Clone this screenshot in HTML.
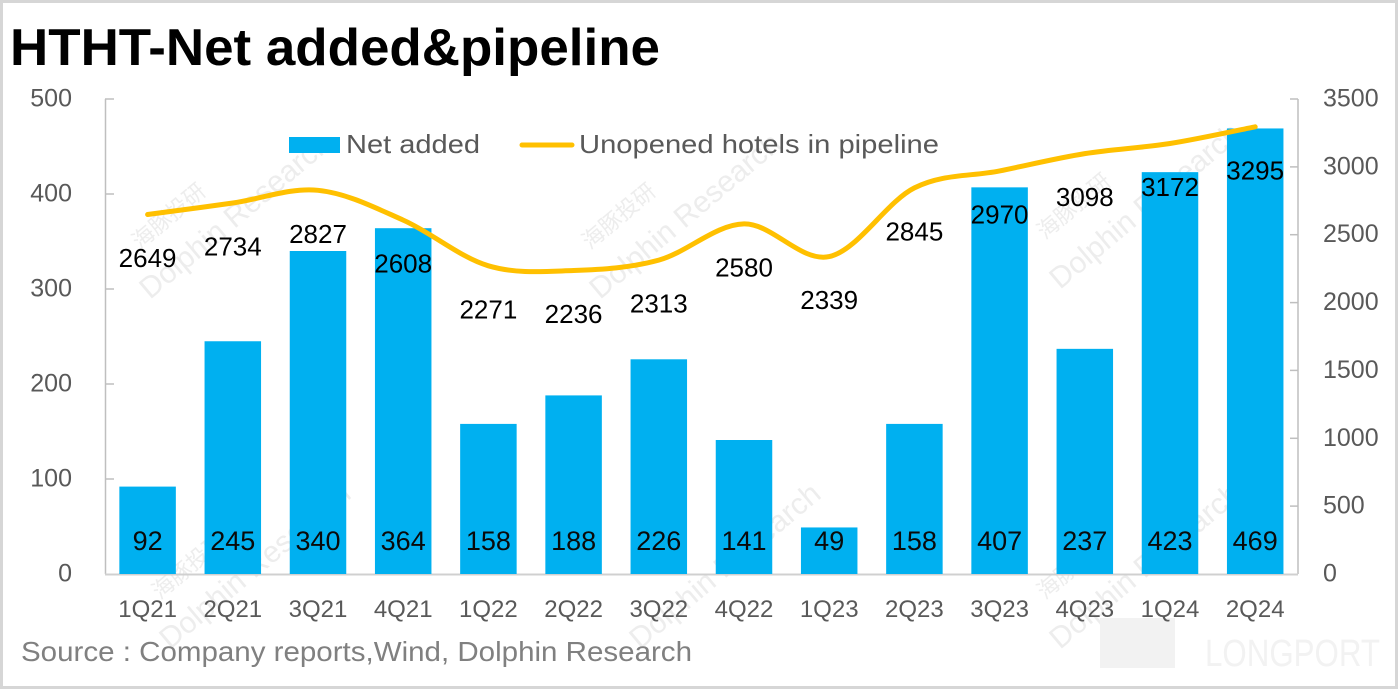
<!DOCTYPE html>
<html>
<head>
<meta charset="utf-8">
<style>
  html,body{margin:0;padding:0;background:#fff;}
  svg{display:block;}
  text{font-family:"Liberation Sans","Noto Sans CJK SC",sans-serif;}
</style>
</head>
<body>
<svg width="1398" height="689" viewBox="0 0 1398 689" xmlns="http://www.w3.org/2000/svg">
  <rect x="0" y="0" width="1398" height="689" fill="#ffffff"/>
  <rect x="1.5" y="1.5" width="1395" height="686" fill="none" stroke="#d6d6d6" stroke-width="3"/>

  <!-- faint watermarks -->
  <g fill="#ededed" font-size="30">
    <text x="0" y="0" transform="translate(150,300) rotate(-40)">Dolphin Research</text>
    <text x="0" y="0" font-size="22" transform="translate(140,250) rotate(-40)">海豚投研</text>
    <text x="0" y="0" transform="translate(600,300) rotate(-40)">Dolphin Research</text>
    <text x="0" y="0" font-size="22" transform="translate(590,250) rotate(-40)">海豚投研</text>
    <text x="0" y="0" transform="translate(1060,290) rotate(-40)">Dolphin Research</text>
    <text x="0" y="0" font-size="22" transform="translate(1045,240) rotate(-40)">海豚投研</text>
    <text x="0" y="0" transform="translate(170,650) rotate(-40)">Dolphin Research</text>
    <text x="0" y="0" font-size="22" transform="translate(160,600) rotate(-40)">海豚投研</text>
    <text x="0" y="0" transform="translate(640,650) rotate(-40)">Dolphin Research</text>
    <text x="0" y="0" transform="translate(1060,650) rotate(-40)">Dolphin Research</text>
    <text x="0" y="0" font-size="22" transform="translate(1045,600) rotate(-40)">海豚投研</text>
  </g>
  <g fill="#f2f2f2">
    <rect x="1100" y="618" width="75" height="50"/>
    <text x="1205" y="666" font-size="38" textLength="175" lengthAdjust="spacingAndGlyphs">LONGPORT</text>
  </g>

  <!-- title -->
  <text x="10" y="65" font-size="52" font-weight="bold" fill="#000" textLength="650" lengthAdjust="spacingAndGlyphs">HTHT-Net added&amp;pipeline</text>

  <!-- axes -->
  <g stroke="#bfbfbf" stroke-width="1.5" fill="none">
    <line x1="105.5" y1="99" x2="105.5" y2="574"/>
    <line x1="1298" y1="99" x2="1298" y2="574"/>
    <line x1="105" y1="574.5" x2="1298" y2="574.5" stroke="#d0d0d0" stroke-width="2"/>
    <line x1="105" y1="99" x2="114" y2="99"/>
    <line x1="105" y1="194" x2="114" y2="194"/>
    <line x1="105" y1="289" x2="114" y2="289"/>
    <line x1="105" y1="384" x2="114" y2="384"/>
    <line x1="105" y1="479" x2="114" y2="479"/>
    <line x1="1290" y1="99" x2="1298" y2="99"/>
    <line x1="1290" y1="166.9" x2="1298" y2="166.9"/>
    <line x1="1290" y1="234.7" x2="1298" y2="234.7"/>
    <line x1="1290" y1="302.6" x2="1298" y2="302.6"/>
    <line x1="1290" y1="370.4" x2="1298" y2="370.4"/>
    <line x1="1290" y1="438.3" x2="1298" y2="438.3"/>
    <line x1="1290" y1="506.1" x2="1298" y2="506.1"/>
  </g>

  <!-- left tick labels -->
  <g font-size="25" fill="#595959" text-anchor="end">
    <text x="72" y="106.5">500</text>
    <text x="72" y="201.5">400</text>
    <text x="72" y="296.5">300</text>
    <text x="72" y="391.5">200</text>
    <text x="72" y="486.5">100</text>
    <text x="72" y="581.5">0</text>
  </g>
  <!-- right tick labels -->
  <g font-size="25" fill="#595959" text-anchor="start">
    <text x="1323" y="106.5">3500</text>
    <text x="1323" y="174.4">3000</text>
    <text x="1323" y="242.2">2500</text>
    <text x="1323" y="310.1">2000</text>
    <text x="1323" y="377.9">1500</text>
    <text x="1323" y="445.8">1000</text>
    <text x="1323" y="513.6">500</text>
    <text x="1323" y="581.5">0</text>
  </g>

  <!-- bars -->
  <g fill="#00b0f0">
    <rect x="119.35" y="486.6" width="56.5" height="87.4"/>
    <rect x="204.55" y="341.25" width="56.5" height="232.75"/>
    <rect x="289.75" y="251" width="56.5" height="323"/>
    <rect x="374.95" y="228.2" width="56.5" height="345.8"/>
    <rect x="460.15" y="423.9" width="56.5" height="150.1"/>
    <rect x="545.35" y="395.4" width="56.5" height="178.6"/>
    <rect x="630.55" y="359.3" width="56.5" height="214.7"/>
    <rect x="715.75" y="440" width="56.5" height="134"/>
    <rect x="800.95" y="527.45" width="56.5" height="46.55"/>
    <rect x="886.15" y="423.9" width="56.5" height="150.1"/>
    <rect x="971.35" y="187.35" width="56.5" height="386.65"/>
    <rect x="1056.55" y="348.85" width="56.5" height="225.15"/>
    <rect x="1141.75" y="172.15" width="56.5" height="401.85"/>
    <rect x="1226.95" y="128.45" width="56.5" height="445.55"/>
  </g>

  <!-- bar labels -->
  <g font-size="27" fill="#0a0a0a" text-anchor="middle">
    <text x="147.6" y="550">92</text>
    <text x="232.8" y="550">245</text>
    <text x="318" y="550">340</text>
    <text x="403.2" y="550">364</text>
    <text x="488.4" y="550">158</text>
    <text x="573.6" y="550">188</text>
    <text x="658.8" y="550">226</text>
    <text x="744" y="550">141</text>
    <text x="829.2" y="550">49</text>
    <text x="914.4" y="550">158</text>
    <text x="999.6" y="550">407</text>
    <text x="1084.8" y="550">237</text>
    <text x="1170" y="550">423</text>
    <text x="1255.2" y="550">469</text>
  </g>

  <!-- line -->
  <path d="M147.6,214.5 C161.8,212.58 204.4,207.03 232.8,203.0
           C261.2,198.97 289.6,187.45 318,190.3
           C346.4,193.15 374.8,207.52 403.2,220.1
           C431.6,232.68 460,257.4 488.4,265.8
           C516.8,274.2 545.2,271.45 573.6,270.5
           C602,269.55 630.4,267.87 658.8,260.1
           C687.2,252.33 715.6,224.48 744,223.9
           C772.4,223.32 800.8,262.6 829.2,256.6
           C857.6,250.6 886,202.18 914.4,187.9
           C942.8,173.62 971.2,176.62 999.6,170.9
           C1028,165.18 1056.4,158.17 1084.8,153.6
           C1113.2,149.03 1141.6,147.97 1170,143.5
           C1198.4,139.03 1241,129.58 1255.2,126.8"
        fill="none" stroke="#ffc000" stroke-width="5" stroke-linecap="round" stroke-linejoin="round"/>

  <!-- line labels -->
  <g font-size="26" fill="#000" text-anchor="middle">
    <text x="147.6" y="267">2649</text>
    <text x="232.8" y="255.5">2734</text>
    <text x="318" y="242.8">2827</text>
    <text x="403.2" y="272.6">2608</text>
    <text x="488.4" y="318.3">2271</text>
    <text x="573.6" y="323">2236</text>
    <text x="658.8" y="312.6">2313</text>
    <text x="744" y="276.4">2580</text>
    <text x="829.2" y="309.1">2339</text>
    <text x="914.4" y="240.4">2845</text>
    <text x="999.6" y="223.4">2970</text>
    <text x="1084.8" y="206.1">3098</text>
    <text x="1170" y="196">3172</text>
    <text x="1255.2" y="179.3">3295</text>
  </g>

  <!-- x labels -->
  <g font-size="24" fill="#595959" text-anchor="middle">
    <text x="147.6" y="617">1Q21</text>
    <text x="232.8" y="617">2Q21</text>
    <text x="318" y="617">3Q21</text>
    <text x="403.2" y="617">4Q21</text>
    <text x="488.4" y="617">1Q22</text>
    <text x="573.6" y="617">2Q22</text>
    <text x="658.8" y="617">3Q22</text>
    <text x="744" y="617">4Q22</text>
    <text x="829.2" y="617">1Q23</text>
    <text x="914.4" y="617">2Q23</text>
    <text x="999.6" y="617">3Q23</text>
    <text x="1084.8" y="617">4Q23</text>
    <text x="1170" y="617">1Q24</text>
    <text x="1255.2" y="617">2Q24</text>
  </g>

  <!-- legend -->
  <rect x="289" y="137" width="51" height="16" fill="#00b0f0"/>
  <text x="346" y="153" font-size="26" fill="#595959" textLength="134" lengthAdjust="spacingAndGlyphs">Net added</text>
  <line x1="522" y1="145" x2="572" y2="145" stroke="#ffc000" stroke-width="5" stroke-linecap="round"/>
  <text x="579" y="153" font-size="26" fill="#595959" textLength="360" lengthAdjust="spacingAndGlyphs">Unopened hotels in pipeline</text>

  <!-- source -->
  <text x="21" y="661" font-size="27.5" fill="#808080" textLength="671" lengthAdjust="spacingAndGlyphs">Source : Company reports,Wind, Dolphin Research</text>
</svg>
</body>
</html>
